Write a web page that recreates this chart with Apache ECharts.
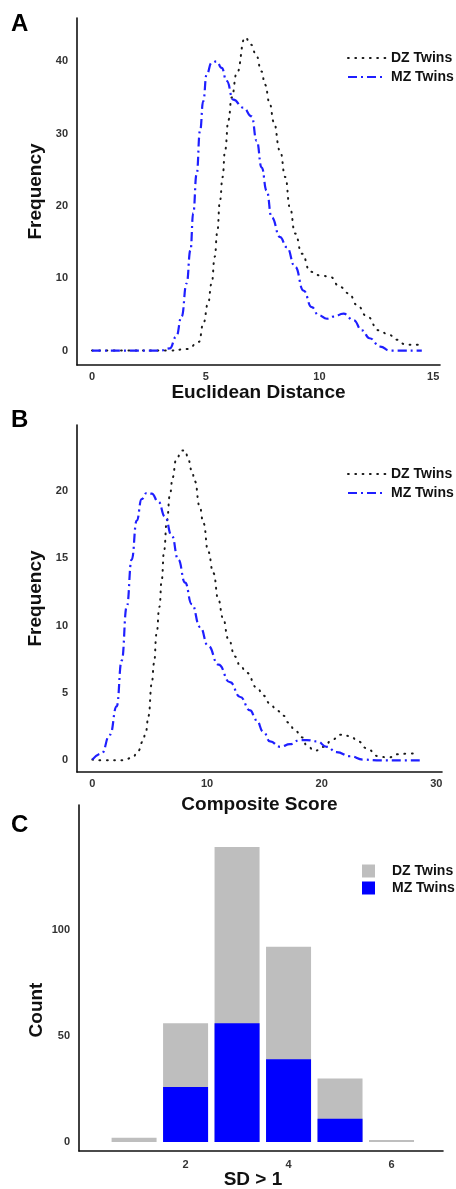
<!DOCTYPE html>
<html><head><meta charset="utf-8">
<script src="https://cdn.jsdelivr.net/npm/echarts@6/dist/echarts.min.js"></script>
<style>html,body{margin:0;padding:0;background:#fff}#c{width:456px;height:1189px}</style>
</head><body><div id="c"></div>
<script>
// Panel A: Euclidean Distance densities
const dzA_x = [0, 3.4, 4.2, 4.7, 4.9, 5.1, 5.26, 5.4, 5.5, 5.63, 5.74, 5.85, 6.0, 6.14, 6.36, 6.73, 7.0, 7.2, 7.46, 7.6, 7.83, 7.98, 8.27, 8.5, 8.7, 8.93, 9.23, 9.6, 10.03, 10.47, 10.9, 11.3, 11.65, 12.1, 12.6, 13.05, 13.4, 13.8, 14.5];
const dzA_y = [0, 0, 0.2, 1.2, 3.8, 6.5, 9.3, 13, 16.2, 20.8, 24, 27.7, 31.9, 35, 38.3, 43.3, 42.3, 41, 38.6, 36.8, 34, 31.7, 27.6, 24, 19.8, 16.2, 13.4, 10.9, 10.4, 10.2, 8.8, 7.9, 6.3, 4.7, 2.8, 2.2, 1.5, 0.8, 0.8];
const mzA_x = [0, 3.0, 3.42, 3.7, 3.94, 4.16, 4.33, 4.45, 4.6, 4.75, 4.89, 5.04, 5.26, 5.48, 5.7, 5.92, 6.21, 6.65, 7.02, 7.24, 7.46, 7.68, 7.9, 8.27, 8.56, 8.93, 9.3, 9.66, 9.96, 10.33, 10.62, 11.06, 11.5, 11.87, 12.2, 12.67, 13.1, 14.5];
const mzA_y = [0, 0, 0.3, 1.9, 4.7, 9.3, 13.9, 19, 24.4, 30.4, 34.5, 38.2, 39.8, 40, 39.1, 37.3, 34.7, 33.6, 32.4, 29, 25.3, 22.1, 18.4, 15.7, 14.3, 11.6, 8.3, 6, 4.9, 4.4, 4.7, 5.1, 4.2, 2.8, 1.7, 0.55, 0, 0];
const ticksA_x = [0, 5, 10, 15];
const ticksA_y = [0, 10, 20, 30, 40];

// Panel B: Composite Score densities
const dzB_x = [0, 0.96, 2.7, 3.5, 4.0, 4.4, 4.66, 4.9, 5.18, 5.38, 5.6, 5.85, 6.05, 6.26, 6.5, 6.78, 7.0, 7.3, 7.8, 8.1, 8.38, 8.67, 8.96, 9.34, 9.7, 10.1, 10.56, 11.0, 11.38, 11.87, 12.45, 12.9, 13.47, 14.35, 14.93, 15.5, 16.1, 16.7, 17.1, 17.7, 18.3, 18.7, 19.4, 20.2, 20.9, 21.6, 22.5, 23.2, 23.9, 24.96, 25.8, 26.7, 27.6, 28.4];
const dzB_y = [0.05, 0, 0, 0.2, 0.7, 1.4, 2.1, 3.3, 5.7, 7.2, 9.4, 11.4, 13.4, 15.6, 17.8, 19.8, 21, 22.3, 23, 23, 22.3, 21.5, 20.7, 18.9, 17.6, 15.5, 13.9, 11.9, 10.6, 9, 7.7, 7, 6.5, 5.4, 4.8, 4.2, 3.7, 3.3, 2.8, 2.2, 1.7, 1.1, 0.7, 1.0, 1.5, 1.9, 1.8, 1.4, 0.9, 0.3, 0.2, 0.45, 0.5, 0.5];
const mzB_x = [0, 0.8, 1.54, 2.12, 2.56, 3.0, 3.43, 3.87, 4.3, 4.74, 5.18, 5.76, 6.34, 6.92, 7.5, 8.09, 8.67, 9.4, 10.1, 11.0, 12.0, 12.9, 13.76, 14.3, 14.93, 15.5, 16.4, 17.25, 18.1, 18.7, 19.6, 20.45, 21.3, 22.5, 23.65, 24.8, 28.9];
const mzB_y = [0.05, 0.5, 1.9, 4, 7.4, 11.4, 14.9, 17.8, 19.4, 19.85, 19.8, 19.2, 18.1, 16.7, 14.9, 13.2, 11.6, 9.9, 8.5, 7.1, 5.8, 4.7, 3.7, 3.0, 2.1, 1.4, 1.0, 1.2, 1.5, 1.5, 1.4, 1.0, 0.6, 0.3, 0.05, 0, 0];
const ticksB_x = [0, 10, 20, 30];
const ticksB_y = [0, 5, 10, 15, 20];

// Panel C: SD > 1 counts (stacked: MZ at the bottom, DZ on top)
const sdCats = [1, 2, 3, 4, 5, 6];
const mzC = [0, 26, 56, 39, 11, 0];
const dzC = [2, 30, 83, 53, 19, 1];
const ticksC_x = [2, 4, 6];
const ticksC_y = [0, 50, 100];

const FONT = "'Liberation Sans', Arial, sans-serif";
const zip = (xs, ys) => xs.map((x, i) => [x, ys[i]]);
const stackTop = dzC.map((v, i) => v + mzC[i]);
const tickLabel = { fontSize: 11, fontWeight: 'bold', color: '#333', fontFamily: FONT };
const nameStyle = { fontSize: 19, fontWeight: 'bold', color: '#111', fontFamily: FONT };
const axLine = { show: true, onZero: false, lineStyle: { color: '#111', width: 1.6 } };

function xAx(grid, min, max, ticks, name, gap, margin) {
  return { type: 'value', gridIndex: grid, min, max, name, nameLocation: 'middle', nameGap: gap,
    nameTextStyle: nameStyle, axisLine: axLine, axisTick: { show: false }, splitLine: { show: false },
    axisLabel: Object.assign({ customValues: ticks, margin: margin }, tickLabel) };
}
function yAx(grid, min, max, ticks, name, gap) {
  return { type: 'value', gridIndex: grid, min, max, name, nameLocation: 'middle', nameGap: gap,
    nameTextStyle: nameStyle, axisLine: axLine, axisTick: { show: false }, splitLine: { show: false },
    axisLabel: Object.assign({ customValues: ticks, margin: 9 }, tickLabel) };
}
const dzLine = { color: '#1a1a1a', width: 2, type: [0.8, 6.5], cap: 'round' };
const mzLine = { color: '#1f1fff', width: 2.2, type: [9, 4, 2, 4] };
function lineSeries(name, idx, data, ls) {
  return { name, type: 'line', xAxisIndex: idx, yAxisIndex: idx, data, symbol: 'none',
    smooth: 0.5, smoothMonotone: 'x', lineStyle: ls, itemStyle: { color: ls.color } };
}
const strip = n => n.replace(/ [ABC]$/, '');
const legText = { fontSize: 14, fontWeight: 'bold', color: '#111', fontFamily: FONT };

const option = {
  animation: false,
  grid: [
    { left: 77, top: 18, width: 363, height: 347 },
    { left: 77, top: 425, width: 365, height: 347 },
    { left: 79, top: 805, width: 364, height: 346 }
  ],
  xAxis: [
    xAx(0, -0.66, 15.3, ticksA_x, 'Euclidean Distance', 18, 6),
    xAx(1, -1.34, 30.5, ticksB_x, 'Composite Score', 23, 6),
    xAx(2, -0.07, 7.0, ticksC_x, '', 19, 8)
  ],
  yAxis: [
    yAx(0, -2, 46, ticksA_y, 'Frequency', 29),
    yAx(1, -0.87, 24.9, ticksB_y, 'Frequency', 29),
    yAx(2, -4.2, 158.8, ticksC_y, '', 29)
  ],
  legend: [
    { orient: 'vertical', left: 347, top: 51, padding: 0, itemWidth: 38, itemHeight: 14, itemGap: 5,
      itemStyle: { opacity: 0 },
      data: ['DZ Twins A', 'MZ Twins A'], formatter: strip, textStyle: legText },
    { orient: 'vertical', left: 347, top: 467, padding: 0, itemWidth: 38, itemHeight: 14, itemGap: 5,
      itemStyle: { opacity: 0 },
      data: ['DZ Twins B', 'MZ Twins B'], formatter: strip, textStyle: legText },
    { orient: 'vertical', left: 362, top: 864, padding: 0, itemWidth: 13, itemHeight: 13, itemGap: 3, icon: 'rect',
      data: ['DZ Twins C', 'MZ Twins C'], formatter: strip,
      textStyle: Object.assign({ padding: [0, 0, 0, 12] }, legText) }
  ],
  series: [
    lineSeries('DZ Twins A', 0, zip(dzA_x, dzA_y), dzLine),
    lineSeries('MZ Twins A', 0, zip(mzA_x, mzA_y), mzLine),
    lineSeries('DZ Twins B', 1, zip(dzB_x, dzB_y), dzLine),
    lineSeries('MZ Twins B', 1, zip(mzB_x, mzB_y), mzLine),
    { name: 'DZ Twins C', type: 'bar', xAxisIndex: 2, yAxisIndex: 2, barWidth: 45, barGap: '-100%',
      data: zip(sdCats, stackTop), itemStyle: { color: '#bebebe' } },
    { name: 'MZ Twins C', type: 'bar', xAxisIndex: 2, yAxisIndex: 2, barWidth: 45, barGap: '-100%',
      data: zip(sdCats, mzC), itemStyle: { color: '#0000ff' } }
  ],
  graphic: [
    { type: 'text', left: 11, top: 12, style: { text: 'A', font: "bold 24px 'Liberation Sans', Arial", fill: '#000' } },
    { type: 'text', left: 11, top: 408, style: { text: 'B', font: "bold 24px 'Liberation Sans', Arial", fill: '#000' } },
    { type: 'text', left: 11, top: 813, style: { text: 'C', font: "bold 24px 'Liberation Sans', Arial", fill: '#000' } },
    { type: 'text', x: 37, y: 1010, rotation: Math.PI / 2,
      style: { text: 'Count', font: "bold 19px 'Liberation Sans', Arial", fill: '#111', align: 'center', verticalAlign: 'middle' } },
    { type: 'text', x: 253, y: 1180,
      style: { text: 'SD > 1', font: "bold 19px 'Liberation Sans', Arial", fill: '#111', align: 'center', verticalAlign: 'middle' } }
  ]
};
const chart = echarts.init(document.getElementById('c'), null, { renderer: 'canvas' });
chart.setOption(option);
</script>
</body></html>
